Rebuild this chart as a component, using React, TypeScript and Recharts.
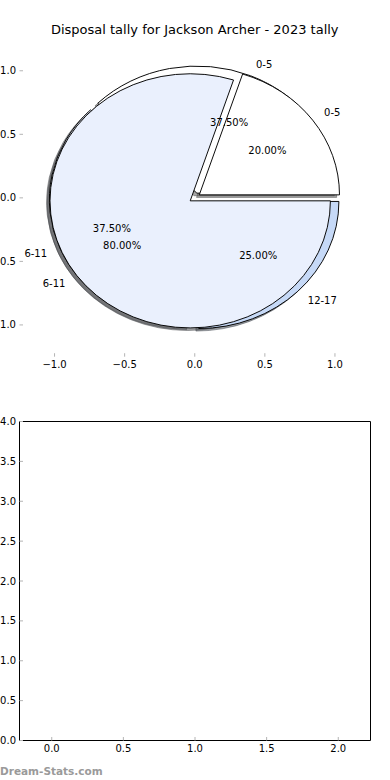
import React from 'react';
import { PieChart, Pie, Cell, ScatterChart, Scatter, XAxis, YAxis } from 'recharts';

// disposal ranges and the two tallies drawn on top of each other
const categories = ['0-5', '6-11', '12-17'];
const tallyA = [3, 3, 2]; // 37.5 / 37.5 / 25
const tallyB = [1, 4]; // 20 / 80
const sliceColors = ['#ffffff', '#eaf0fd', '#c6d9f7'];
const explode = 0.04;
const shadowShift = 0.02;

const pieTicks = [-1, -0.5, 0, 0.5, 1];
const pieDomain = [-1.25, 1.25];
const emptyX = [0, 0.5, 1, 1.5, 2];
const emptyY = [0, 0.5, 1, 1.5, 2, 2.5, 3, 3.5, 4];
const emptyPoints: { x: number; y: number }[] = [];

const TITLE = 'Disposal tally for Jackson Archer - 2023 tally';

// top axes box (page px)
const T_LEFT = 19.5;
const T_RIGHT = 370;
const T_TOP = 39;
const T_BOTTOM = 356.7;
const PX = (T_RIGHT - T_LEFT) / (pieDomain[1] - pieDomain[0]);
const PY = (T_BOTTOM - T_TOP) / (pieDomain[1] - pieDomain[0]);
const SQUASH = PY / PX;
const CX = T_LEFT - pieDomain[0] * PX;
const CY = T_TOP + pieDomain[1] * PY;
const R = PX;

const TICK_GREY = '#b4b4b4';
const fmt = (v: number) => (v < 0 ? '\u2212' : '') + Math.abs(v).toFixed(1);
const tickText = { fill: '#000', fontSize: 10 };

const toData = (vals: number[]) => vals.map((v, i) => ({ name: categories[i], value: v }));

const midAngles = (vals: number[]) => {
  const total = vals.reduce((a, b) => a + b, 0);
  let acc = 0;
  return vals.map((v) => {
    const m = ((acc + v / 2) / total) * 360;
    acc += v;
    return m;
  });
};

const darker = (hex: string) => {
  const n = parseInt(hex.slice(1), 16);
  const r = Math.round(((n >> 16) & 255) * 0.3);
  const g = Math.round(((n >> 8) & 255) * 0.3);
  const b = Math.round((n & 255) * 0.3);
  return `rgb(${r},${g},${b})`;
};

const wedges = (id: string, vals: number[], kind: 'shadow' | 'wedge') => {
  const data = toData(vals);
  const mids = midAngles(vals);
  return vals.map((_, i) => {
    const a = (mids[i] * Math.PI) / 180;
    let ox = explode * R * Math.cos(a);
    let oy = -explode * R * Math.sin(a);
    if (kind === 'shadow') {
      ox -= shadowShift * R;
      oy += shadowShift * R;
    }
    const col = kind === 'shadow' ? darker(sliceColors[i]) : sliceColors[i];
    return (
      <Pie
        key={`${id}-${kind}-${i}`}
        data={data}
        dataKey="value"
        nameKey="name"
        cx={CX + ox}
        cy={CY + oy}
        innerRadius={0}
        outerRadius={R}
        startAngle={0}
        endAngle={360}
        label={false}
        labelLine={false}
        isAnimationActive={false}
      >
        {data.map((d, j) => (
          <Cell
            key={d.name}
            fill={j === i ? col : 'none'}
            stroke={j === i ? (kind === 'shadow' ? col : '#000') : 'none'}
            strokeWidth={1}
            fillOpacity={kind === 'shadow' ? 0.5 : 1}
            strokeOpacity={kind === 'shadow' ? 0.5 : 1}
          />
        ))}
      </Pie>
    );
  });
};

const sliceLabel = (props: any) => {
  const { cx, cy, midAngle, name, percent } = props;
  const a = (midAngle * Math.PI) / 180;
  const c = Math.cos(a);
  const s = Math.sin(a);
  const ex = cx + explode * R * c;
  const ey = cy - explode * R * s;
  const lx = ex + 1.1 * R * c;
  const ly = ey - 1.1 * R * s;
  const px = ex + 0.6 * R * c;
  const py = ey - 0.6 * R * s;
  const k = 1 / SQUASH;
  return (
    <g>
      <text
        transform={`translate(${lx} ${ly}) scale(1 ${k})`}
        textAnchor={c > 0 ? 'start' : 'end'}
        dominantBaseline="central"
        fontSize={10}
        fill="#000"
      >
        {name}
      </text>
      <text
        transform={`translate(${px} ${py}) scale(1 ${k})`}
        textAnchor="middle"
        dominantBaseline="central"
        fontSize={10}
        fill="#000"
      >
        {(percent * 100).toFixed(2) + '%'}
      </text>
    </g>
  );
};

const labelPie = (id: string, vals: number[]) => {
  const data = toData(vals);
  return (
    <Pie
      key={`${id}-labels`}
      data={data}
      dataKey="value"
      nameKey="name"
      cx={CX}
      cy={CY}
      innerRadius={0}
      outerRadius={R}
      startAngle={0}
      endAngle={360}
      label={sliceLabel}
      labelLine={false}
      isAnimationActive={false}
    >
      {data.map((d) => (
        <Cell key={d.name} fill="none" stroke="none" />
      ))}
    </Pie>
  );
};

export default function App() {
  return (
    <div
      style={{
        position: 'absolute',
        left: 0,
        top: 0,
        width: 390,
        height: 780,
        overflow: 'hidden',
        background: '#fff',
        fontFamily: '"DejaVu Sans", sans-serif',
      }}
    >
      {/* top axes: ticks only, no frame */}
      <div style={{ position: 'absolute', left: 0, top: 0 }}>
        <ScatterChart
          width={390}
          height={400}
          margin={{ top: T_TOP - 1, right: 390 - T_RIGHT - 1, bottom: 400 - T_BOTTOM - 1, left: T_LEFT - 1 }}
        >
          <XAxis
            xAxisId="b"
            type="number"
            dataKey="x"
            domain={pieDomain}
            ticks={pieTicks}
            interval={0}
            allowDataOverflow
            height={1}
            axisLine={false}
            tickLine={{ stroke: TICK_GREY }}
            tickSize={-3.5}
            tickMargin={7.5}
            tick={tickText}
            tickFormatter={fmt}
          />
          <XAxis
            xAxisId="t"
            orientation="top"
            type="number"
            dataKey="x"
            domain={pieDomain}
            ticks={pieTicks}
            interval={0}
            allowDataOverflow
            height={1}
            axisLine={false}
            tickLine={{ stroke: TICK_GREY }}
            tickSize={-3.5}
            tick={false}
          />
          <YAxis
            yAxisId="l"
            type="number"
            dataKey="y"
            domain={pieDomain}
            ticks={pieTicks}
            interval={0}
            allowDataOverflow
            width={1}
            axisLine={false}
            tickLine={{ stroke: TICK_GREY }}
            tickSize={-3.5}
            tickMargin={7}
            tick={tickText}
            tickFormatter={fmt}
          />
          <YAxis
            yAxisId="r"
            orientation="right"
            type="number"
            dataKey="y"
            domain={pieDomain}
            ticks={pieTicks}
            interval={0}
            allowDataOverflow
            width={1}
            axisLine={false}
            tickLine={{ stroke: TICK_GREY }}
            tickSize={-3.5}
            tick={false}
          />
          <Scatter xAxisId="b" yAxisId="l" data={emptyPoints} isAnimationActive={false} />
          <Scatter xAxisId="t" yAxisId="r" data={emptyPoints} isAnimationActive={false} />
        </ScatterChart>
      </div>

      {/* the pies, squashed vertically like the non-equal aspect axes */}
      <div
        style={{
          position: 'absolute',
          left: 0,
          top: 0,
          transform: `scaleY(${SQUASH})`,
          transformOrigin: `0px ${CY}px`,
        }}
      >
        <PieChart width={390} height={400} margin={{ top: 0, right: 0, bottom: 0, left: 0 }}>
          {wedges('a', tallyA, 'shadow')}
          {wedges('b', tallyB, 'shadow')}
          {wedges('a', tallyA, 'wedge')}
          {wedges('b', tallyB, 'wedge')}
          {labelPie('a', tallyA)}
          {labelPie('b', tallyB)}
        </PieChart>
      </div>

      {/* bottom empty axes */}
      <div style={{ position: 'absolute', left: 0, top: 400 }}>
        <ScatterChart width={390} height={380} margin={{ top: 20.5, right: 18.5, bottom: 38.5, left: 18.5 }}>
          <XAxis
            xAxisId="b"
            type="number"
            dataKey="x"
            domain={[-0.225, 2.225]}
            ticks={emptyX}
            interval={0}
            allowDataOverflow
            height={1}
            stroke="#000"
            tickLine={{ stroke: TICK_GREY }}
            tickSize={-3.5}
            tickMargin={8}
            tick={tickText}
            tickFormatter={fmt}
          />
          <XAxis
            xAxisId="t"
            orientation="top"
            type="number"
            dataKey="x"
            domain={[-0.225, 2.225]}
            ticks={emptyX}
            interval={0}
            allowDataOverflow
            height={1}
            stroke="#000"
            tickLine={{ stroke: TICK_GREY }}
            tickSize={-3.5}
            tick={false}
          />
          <YAxis
            yAxisId="l"
            type="number"
            dataKey="y"
            domain={[0, 4]}
            ticks={emptyY}
            interval={0}
            allowDataOverflow
            width={1}
            stroke="#000"
            tickLine={{ stroke: TICK_GREY }}
            tickSize={-3.5}
            tickMargin={7}
            tick={tickText}
            tickFormatter={fmt}
          />
          <YAxis
            yAxisId="r"
            orientation="right"
            type="number"
            dataKey="y"
            domain={[0, 4]}
            ticks={emptyY}
            interval={0}
            allowDataOverflow
            width={1}
            stroke="#000"
            tickLine={{ stroke: TICK_GREY }}
            tickSize={-3.5}
            tick={false}
          />
          <Scatter xAxisId="b" yAxisId="l" data={emptyPoints} isAnimationActive={false} />
          <Scatter xAxisId="t" yAxisId="r" data={emptyPoints} isAnimationActive={false} />
        </ScatterChart>
      </div>

      <svg width={390} height={780} style={{ position: 'absolute', left: 0, top: 0, pointerEvents: 'none' }}>
        <text x={(T_LEFT + T_RIGHT) / 2} y={34} textAnchor="middle" fontSize={13} fill="#000">
          {TITLE}
        </text>
        <text x={0} y={775} fontSize={10.5} fontWeight="bold" fill="#9a9a9a">
          Dream-Stats.com
        </text>
      </svg>
    </div>
  );
}
